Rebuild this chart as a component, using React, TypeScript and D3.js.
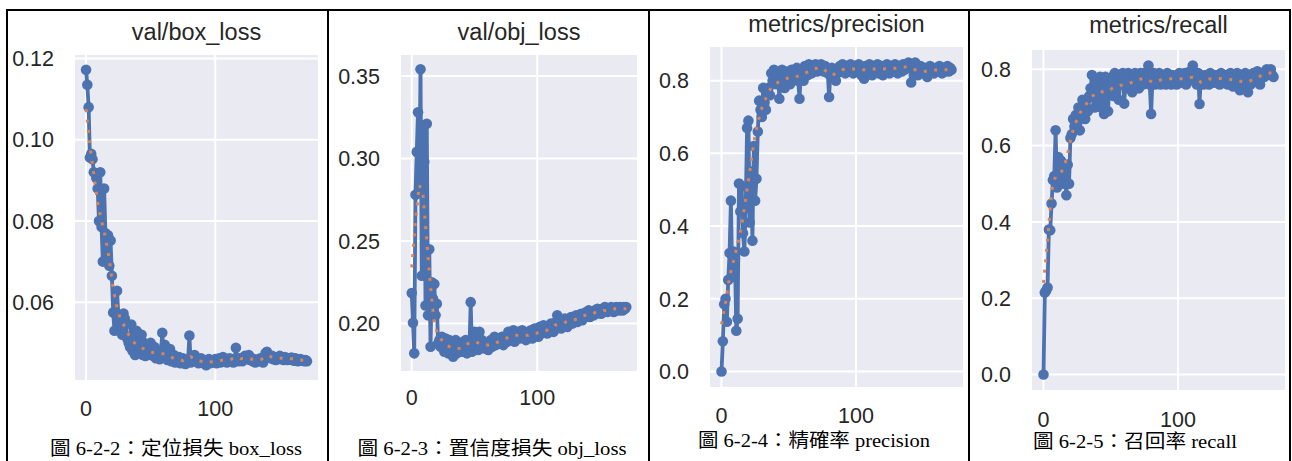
import React from 'react'
import * as d3 from 'd3'

// epochs 0..171 for every panel
const epochs = d3.range(0, 172)
const smoothEpochs = d3.range(0, 172, 3)

const boxLoss = [
  0.1172, 0.1135, 0.1080, 0.0956, 0.0965, 0.0952, 0.0920, 0.0918, 0.0905, 0.0880,
  0.0800, 0.0920, 0.0785, 0.0700, 0.0880, 0.0770, 0.0710, 0.0765, 0.0690, 0.0752,
  0.0665, 0.0575, 0.0530, 0.0575, 0.0628, 0.0570, 0.0555, 0.0540, 0.0520, 0.0572,
  0.0560, 0.0548, 0.0510, 0.0500, 0.0490, 0.0545, 0.0480, 0.0505, 0.0470, 0.0530,
  0.0525, 0.0475, 0.0490, 0.0520, 0.0470, 0.0500, 0.0468, 0.0485, 0.0475, 0.0472,
  0.0500, 0.0470, 0.0468, 0.0490, 0.0462, 0.0480, 0.0470, 0.0460, 0.0475, 0.0525,
  0.0465, 0.0495, 0.0470, 0.0458, 0.0468, 0.0485, 0.0455, 0.0462, 0.0470, 0.0452,
  0.0460, 0.0455, 0.0465, 0.0450, 0.0458, 0.0462, 0.0450, 0.0448, 0.0455, 0.0460,
  0.0518, 0.0452, 0.0458, 0.0465, 0.0470, 0.0455, 0.0460, 0.0450, 0.0455, 0.0462,
  0.0458, 0.0452, 0.0448, 0.0445, 0.0455, 0.0460, 0.0450, 0.0458, 0.0452, 0.0455,
  0.0460, 0.0450, 0.0455, 0.0462, 0.0452, 0.0458, 0.0465, 0.0455, 0.0460, 0.0452,
  0.0458, 0.0462, 0.0455, 0.0460, 0.0452, 0.0458, 0.0488, 0.0460, 0.0455, 0.0462,
  0.0458, 0.0455, 0.0462, 0.0468, 0.0465, 0.0460, 0.0470, 0.0458, 0.0462, 0.0455,
  0.0460, 0.0452, 0.0458, 0.0455, 0.0460, 0.0462, 0.0458, 0.0452, 0.0465, 0.0475,
  0.0478, 0.0470, 0.0465, 0.0462, 0.0468, 0.0460, 0.0465, 0.0458, 0.0462, 0.0466,
  0.0468, 0.0460, 0.0462, 0.0458, 0.0465, 0.0460, 0.0458, 0.0462, 0.0460, 0.0464,
  0.0458, 0.0456, 0.0462, 0.0460, 0.0455, 0.0458, 0.0460, 0.0456, 0.0458, 0.0455,
  0.0458, 0.0455,
]
const boxSmooth = [
  0.1075, 0.0985, 0.0915, 0.0845, 0.0800, 0.0760, 0.0705, 0.0635, 0.0585, 0.0555,
  0.0540, 0.0520, 0.0505, 0.0495, 0.0490, 0.0485, 0.0480, 0.0477, 0.0474, 0.0474,
  0.0473, 0.0470, 0.0465, 0.0460, 0.0458, 0.0456, 0.0462, 0.0466, 0.0460, 0.0456,
  0.0454, 0.0452, 0.0453, 0.0454, 0.0455, 0.0457, 0.0457, 0.0458, 0.0462, 0.0465,
  0.0461, 0.0462, 0.0462, 0.0459, 0.0457, 0.0458, 0.0464, 0.0469, 0.0465, 0.0463,
  0.0463, 0.0461, 0.0461, 0.0461, 0.0459, 0.0458, 0.0457, 0.0457,
]

const objLoss = [
  0.2185, 0.2005, 0.1820, 0.2780, 0.3040, 0.3280, 0.2800, 0.3540, 0.2290, 0.3200,
  0.2980, 0.2110, 0.3210, 0.2050, 0.2450, 0.1860, 0.2250, 0.2150, 0.2240, 0.2050,
  0.2120, 0.1880, 0.1900, 0.1860, 0.1920, 0.1880, 0.1830, 0.1910, 0.1860, 0.1820,
  0.1900, 0.1850, 0.1880, 0.1800, 0.1860, 0.1900, 0.1820, 0.1840, 0.1880, 0.1860,
  0.1830, 0.1890, 0.1850, 0.1900, 0.1820, 0.1870, 0.1850, 0.2130, 0.1830, 0.1880,
  0.1950, 0.1860, 0.1920, 0.1840, 0.1950, 0.1870, 0.1900, 0.1860, 0.1850, 0.1870,
  0.1860, 0.1840, 0.1880, 0.1900, 0.1860, 0.1880, 0.1920, 0.1870, 0.1900, 0.1890,
  0.1910, 0.1880, 0.1920, 0.1870, 0.1900, 0.1920, 0.1890, 0.1950, 0.1900, 0.1930,
  0.1910, 0.1960, 0.1890, 0.1940, 0.1920, 0.1950, 0.1910, 0.1930, 0.1960, 0.1920,
  0.1940, 0.1900, 0.1930, 0.1950, 0.1920, 0.1960, 0.1910, 0.1940, 0.1970, 0.1930,
  0.1950, 0.1920, 0.1980, 0.1940, 0.1960, 0.1990, 0.1950, 0.1970, 0.1940, 0.1980,
  0.1960, 0.2000, 0.1970, 0.1950, 0.1990, 0.2010, 0.2050, 0.1980, 0.2000, 0.1970,
  0.2010, 0.1990, 0.2030, 0.2000, 0.1980, 0.2020, 0.2010, 0.2040, 0.2000, 0.2030,
  0.2020, 0.2050, 0.2010, 0.2040, 0.2030, 0.2060, 0.2020, 0.2050, 0.2040, 0.2070,
  0.2050, 0.2080, 0.2040, 0.2060, 0.2070, 0.2050, 0.2080, 0.2060, 0.2090, 0.2070,
  0.2080, 0.2060, 0.2090, 0.2070, 0.2100, 0.2080, 0.2070, 0.2090, 0.2080, 0.2100,
  0.2090, 0.2070, 0.2080, 0.2100, 0.2090, 0.2080, 0.2100, 0.2090, 0.2080, 0.2100,
  0.2090, 0.2100,
]
const objSmooth = [
  0.234, 0.262, 0.284, 0.278, 0.250, 0.222, 0.200, 0.193, 0.190, 0.187,
  0.186, 0.185, 0.185, 0.185, 0.186, 0.188, 0.189, 0.189, 0.188, 0.187,
  0.187, 0.187, 0.188, 0.189, 0.190, 0.191, 0.192, 0.192, 0.193, 0.193,
  0.193, 0.193, 0.194, 0.194, 0.195, 0.196, 0.196, 0.197, 0.199, 0.200,
  0.200, 0.201, 0.202, 0.202, 0.203, 0.204, 0.205, 0.206, 0.206, 0.207,
  0.207, 0.208, 0.208, 0.208, 0.209, 0.209, 0.209, 0.209,
]

const precision = [
  0.000, 0.083, 0.185, 0.200, 0.137, 0.252, 0.326, 0.470, 0.260, 0.330,
  0.310, 0.112, 0.145, 0.517, 0.440, 0.510, 0.380, 0.330, 0.450, 0.670,
  0.690, 0.410, 0.550, 0.360, 0.620, 0.470, 0.530, 0.660, 0.745, 0.720,
  0.700, 0.780, 0.740, 0.720, 0.770, 0.780, 0.760, 0.820, 0.800, 0.830,
  0.810, 0.790, 0.820, 0.750, 0.800, 0.830, 0.815, 0.780, 0.825, 0.810,
  0.820, 0.790, 0.830, 0.800, 0.825, 0.815, 0.835, 0.800, 0.750, 0.820,
  0.830, 0.800, 0.840, 0.825, 0.815, 0.845, 0.830, 0.820, 0.840, 0.835,
  0.845, 0.825, 0.840, 0.830, 0.845, 0.835, 0.825, 0.840, 0.830, 0.820,
  0.755, 0.825, 0.835, 0.810, 0.830, 0.800, 0.820, 0.835, 0.840, 0.825,
  0.845, 0.830, 0.820, 0.840, 0.835, 0.825, 0.845, 0.830, 0.820, 0.835,
  0.840, 0.825, 0.845, 0.830, 0.815, 0.835, 0.805, 0.840, 0.830, 0.820,
  0.845, 0.830, 0.815, 0.840, 0.825, 0.835, 0.845, 0.820, 0.830, 0.840,
  0.815, 0.835, 0.825, 0.845, 0.830, 0.820, 0.840, 0.835, 0.825, 0.845,
  0.830, 0.820, 0.840, 0.835, 0.825, 0.845, 0.830, 0.840, 0.835, 0.850,
  0.840, 0.795, 0.845, 0.835, 0.850, 0.825, 0.815, 0.830, 0.840, 0.825,
  0.820, 0.835, 0.825, 0.810, 0.830, 0.840, 0.825, 0.835, 0.820, 0.830,
  0.835, 0.825, 0.840, 0.830, 0.820, 0.835, 0.825, 0.830, 0.840, 0.825,
  0.835, 0.830,
]
const precisionSmooth = [
  0.130, 0.190, 0.260, 0.305, 0.350, 0.400, 0.475, 0.550, 0.630, 0.685,
  0.725, 0.752, 0.775, 0.790, 0.795, 0.800, 0.805, 0.810, 0.812, 0.812,
  0.815, 0.822, 0.828, 0.832, 0.836, 0.835, 0.825, 0.815, 0.818, 0.825,
  0.830, 0.832, 0.832, 0.832, 0.833, 0.830, 0.830, 0.832, 0.832, 0.833,
  0.832, 0.833, 0.833, 0.834, 0.835, 0.837, 0.838, 0.833, 0.830, 0.828,
  0.826, 0.826, 0.828, 0.829, 0.830, 0.830, 0.830, 0.830,
]

const recall = [
  0.000, 0.215, 0.220, 0.228, 0.380, 0.378, 0.448, 0.510, 0.520, 0.640,
  0.490, 0.570, 0.520, 0.560, 0.540, 0.500, 0.530, 0.470, 0.550, 0.500,
  0.620, 0.630, 0.670, 0.650, 0.680, 0.660, 0.700, 0.640, 0.680, 0.720,
  0.700, 0.670, 0.720, 0.690, 0.730, 0.750, 0.785, 0.740, 0.700, 0.720,
  0.770, 0.740, 0.780, 0.700, 0.760, 0.683, 0.780, 0.750, 0.690, 0.770,
  0.760, 0.780, 0.730, 0.790, 0.750, 0.770, 0.720, 0.780, 0.760, 0.790,
  0.710, 0.770, 0.750, 0.790, 0.760, 0.780, 0.740, 0.770, 0.790, 0.760,
  0.780, 0.750, 0.790, 0.770, 0.760, 0.790, 0.780, 0.770, 0.810, 0.760,
  0.683, 0.770, 0.790, 0.760, 0.780, 0.770, 0.790, 0.760, 0.780, 0.770,
  0.780, 0.760, 0.790, 0.770, 0.780, 0.760, 0.785, 0.770, 0.780, 0.760,
  0.775, 0.790, 0.765, 0.780, 0.770, 0.790, 0.760, 0.780, 0.770, 0.795,
  0.775, 0.810, 0.770, 0.780, 0.760, 0.790, 0.709, 0.780, 0.770, 0.760,
  0.785, 0.770, 0.780, 0.760, 0.790, 0.770, 0.780, 0.765, 0.785, 0.770,
  0.775, 0.760, 0.790, 0.770, 0.780, 0.765, 0.785, 0.760, 0.775, 0.790,
  0.770, 0.755, 0.780, 0.765, 0.790, 0.770, 0.745, 0.780, 0.760, 0.775,
  0.790, 0.770, 0.740, 0.775, 0.760, 0.785, 0.790, 0.770, 0.780, 0.795,
  0.775, 0.760, 0.785, 0.790, 0.780, 0.795, 0.800, 0.785, 0.790, 0.800,
  0.785, 0.780,
]
const recallSmooth = [
  0.240, 0.350, 0.480, 0.520, 0.525, 0.540, 0.580, 0.630, 0.660, 0.685,
  0.700, 0.715, 0.728, 0.738, 0.742, 0.740, 0.742, 0.750, 0.756, 0.758,
  0.758, 0.762, 0.766, 0.770, 0.774, 0.776, 0.772, 0.766, 0.768, 0.772,
  0.774, 0.775, 0.775, 0.774, 0.775, 0.776, 0.778, 0.779, 0.774, 0.766,
  0.768, 0.774, 0.776, 0.776, 0.776, 0.775, 0.774, 0.772, 0.772, 0.768,
  0.766, 0.768, 0.774, 0.780, 0.783, 0.787, 0.790, 0.790,
]

const boxTicks = [0.06, 0.08, 0.1, 0.12]
const objTicks = [0.2, 0.25, 0.3, 0.35]
const metricTicks = [0, 0.2, 0.4, 0.6, 0.8]
const xTicks = [0, 100]

const titles = ['val/box_loss', 'val/obj_loss', 'metrics/precision', 'metrics/recall']
const captions = [
  '圖 6-2-2：定位損失 box_loss',
  '圖 6-2-3：置信度損失 obj_loss',
  '圖 6-2-4：精確率 precision',
  '圖 6-2-5：召回率 recall',
]

const width = 1292
const height = 461
const blue = '#4c72b0'
const orange = '#dd8452'
const sans = '"Liberation Sans", Arial, sans-serif'
const serif = '"Liberation Serif", "Noto Sans CJK TC", serif'

// plot frames as placed in each table cell
const frames = [
  { left: 75, right: 318, top: 55, bottom: 380, titleY: 40, xLabelY: 416, capX: 176, capY: 455, capW: 252 },
  { left: 401, right: 637, top: 55, bottom: 371, titleY: 40, xLabelY: 405, capX: 492, capY: 455, capW: 269 },
  { left: 710, right: 963, top: 47, bottom: 387, titleY: 32, xLabelY: 423, capX: 814, capY: 447, capW: 232 },
  { left: 1032, right: 1285, top: 50, bottom: 390, titleY: 33, xLabelY: 427, capX: 1135, capY: 448, capW: 204 },
]
const cellEdges = [7, 328, 649, 969, 1290]

const panels = [
  { values: boxLoss, smooth: boxSmooth, ticks: boxTicks, fmt: d3.format('.2f') },
  { values: objLoss, smooth: objSmooth, ticks: objTicks, fmt: d3.format('.2f') },
  { values: precision, smooth: precisionSmooth, ticks: metricTicks, fmt: d3.format('.1f') },
  { values: recall, smooth: recallSmooth, ticks: metricTicks, fmt: d3.format('.1f') },
]

// matplotlib style 5% margins
function padded(extent: [number, number]): [number, number] {
  const pad = (extent[1] - extent[0]) * 0.05
  return [extent[0] - pad, extent[1] + pad]
}

function Panel({ i }: { i: number }) {
  const p = panels[i]
  const f = frames[i]
  const x = d3.scaleLinear().domain(padded(d3.extent(epochs) as [number, number])).range([f.left, f.right])
  const y = d3.scaleLinear().domain(padded(d3.extent(p.values) as [number, number])).range([f.bottom, f.top])

  const line = d3.line<number>().x((_, k) => x(epochs[k])).y(d => y(d))
  const smoothLine = d3.line<number>().x((_, k) => x(smoothEpochs[k])).y(d => y(d))
  const yTicks = p.ticks.filter(t => y(t) >= f.top - 4 && y(t) <= f.bottom)

  return (
    <g>
      <text x={(f.left + f.right) / 2} y={f.titleY} textAnchor="middle" fontFamily={sans} fontSize={23.5} fill="#262626">
        {titles[i]}
      </text>
      <rect x={f.left} y={f.top} width={f.right - f.left} height={f.bottom - f.top} fill="#eaeaf2" />
      {yTicks.map(t => (
        <g key={'y' + t}>
          <line x1={f.left} x2={f.right} y1={y(t)} y2={y(t)} stroke="#fff" strokeWidth={2} />
          <text x={f.left - 21} y={y(t)} dy="0.36em" textAnchor="end" fontFamily={sans} fontSize={21.5} fill="#262626">
            {p.fmt(t)}
          </text>
        </g>
      ))}
      {xTicks.map(t => (
        <g key={'x' + t}>
          <line x1={x(t)} x2={x(t)} y1={f.top} y2={f.bottom} stroke="#fff" strokeWidth={2} />
          <text x={x(t)} y={f.xLabelY} textAnchor="middle" fontFamily={sans} fontSize={21.5} fill="#262626">
            {t}
          </text>
        </g>
      ))}
      <path d={line(p.values) ?? ''} fill="none" stroke={blue} strokeWidth={3.8} strokeLinejoin="round" />
      {p.values.map((v, k) => (
        <circle key={k} cx={x(epochs[k])} cy={y(v)} r={5.3} fill={blue} />
      ))}
      <path
        d={smoothLine(p.smooth) ?? ''}
        fill="none"
        stroke={orange}
        strokeWidth={3}
        strokeDasharray="3 7.4"
      />
      <text
        x={f.capX}
        y={f.capY}
        textAnchor="middle"
        fontFamily={serif}
        fontSize={19}
        fill="#000"
        textLength={f.capW}
        lengthAdjust="spacingAndGlyphs"
      >
        {captions[i]}
      </text>
    </g>
  )
}

export default function App() {
  return (
    <svg
      width={width}
      height={height}
      viewBox={`0 0 ${width} ${height}`}
      style={{ position: 'absolute', left: 0, top: 0, background: '#fff' }}
    >
      <rect width={width} height={height} fill="#fff" />
      {panels.map((_, i) => (
        <Panel key={i} i={i} />
      ))}
      <line x1={cellEdges[0] - 1} x2={cellEdges[4] + 1} y1={10} y2={10} stroke="#000" strokeWidth={2} />
      {cellEdges.map(e => (
        <line key={e} x1={e} x2={e} y1={9} y2={height} stroke="#000" strokeWidth={2} />
      ))}
    </svg>
  )
}
